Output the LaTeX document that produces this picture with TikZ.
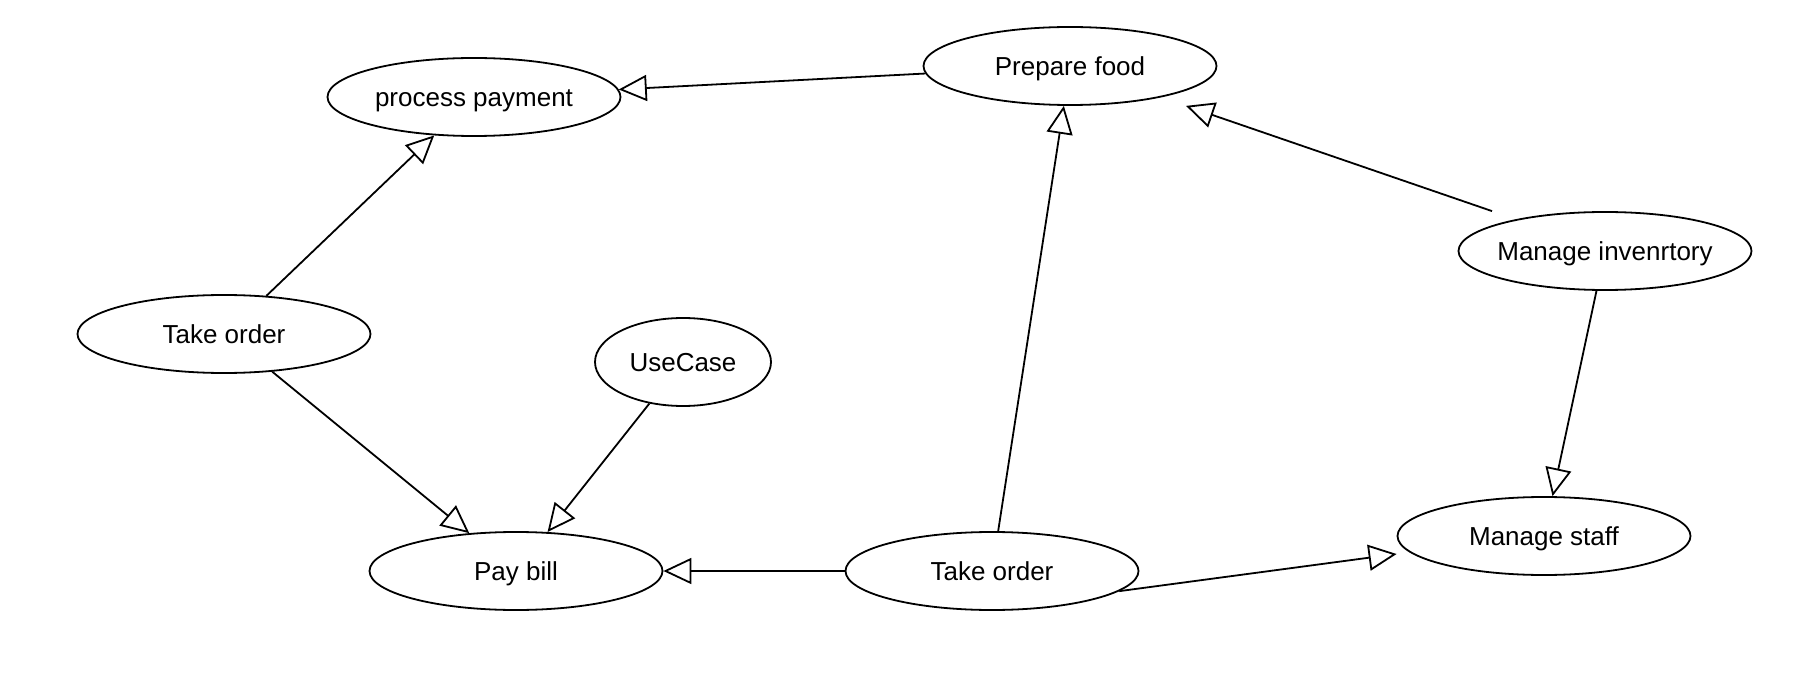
\documentclass[tikz,border=0pt]{standalone}
\usepackage{fontspec}
\setmainfont{Liberation Sans}
\usepackage{tikz}
\usetikzlibrary{shapes.geometric,arrows.meta}

\begin{document}
\begin{tikzpicture}[x=0.5pt, y=-0.5pt,
    usecase/.style={draw, ellipse, line width=0.9pt, inner sep=0pt,
      minimum width=146.5pt, minimum height=39pt, text height=9.3pt, text depth=0pt,
      font=\fontsize{13}{15}\selectfont},
    gen/.style={line width=0.9pt, -{Triangle[open, length=14pt, width=13pt]}}]
      \useasboundingbox (0, 0) rectangle (1805, 700);

      \node [usecase] (pp) at (474, 97)   {process payment};
      \node [usecase] (pf) at (1070, 66)  {Prepare food};
      \node [usecase] (tl) at (224, 334)  {Take order};
      \node [usecase, minimum width=88pt, minimum height=44pt] (uc) at (683, 362) {UseCase};
      \node [usecase, inner xsep=-3pt] (mi) at (1605, 251) {Manage invenrtory};
      \node [usecase] (pb) at (516, 571)  {Pay bill};
      \node [usecase] (tb) at (992, 571)  {Take order};
      \node [usecase] (ms) at (1544, 536) {Manage staff};

      \draw [gen] (tl.42) -- (pp.224);
      \draw [gen] (tl.-38) -- (pb.141);
      \draw [gen] (uc.231) -- (pb.51);
      \draw [gen] (pf) -- (pp);
      \draw [gen] (tb) -- (pf);
      \draw [gen] (tb) -- (pb);
      \draw [gen] ([xshift=-56.5pt]mi.north) -- ([xshift=58pt]pf.south);
      \draw [gen] (mi) -- (ms);
      \draw [gen] (tb.-9) -- ([yshift=-9pt]ms.west);
\end{tikzpicture}
\end{document}
